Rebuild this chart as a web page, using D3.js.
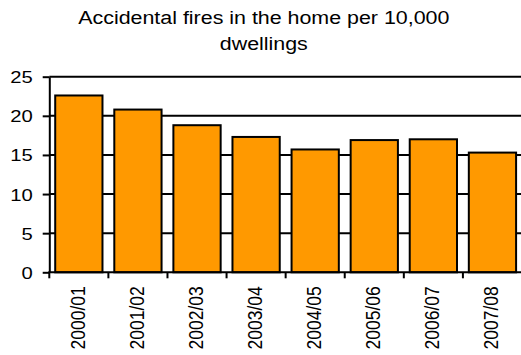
<!DOCTYPE html>
<html>
<head>
<meta charset="utf-8">
<script src="https://cdn.jsdelivr.net/npm/d3@7"></script>
<style>
  html, body { margin: 0; padding: 0; background: #fff; }
  svg { display: block; }
  text { font-family: "Liberation Sans", Arial, sans-serif; fill: #000; }
</style>
</head>
<body>
<svg id="chart" width="521" height="355"></svg>
<script>
// Accidental fires in the home per 10,000 dwellings, by financial year
const years = ["2000/01", "2001/02", "2002/03", "2003/04", "2004/05", "2005/06", "2006/07", "2007/08"];
const firesPer10k = [22.6, 20.8, 18.8, 17.3, 15.7, 16.9, 17.0, 15.3];
const yTicks = [0, 5, 10, 15, 20, 25];
const titleLines = ["Accidental fires in the home per 10,000", "dwellings"];

const svg = d3.select("#chart");
const stretch = 1.19; // glyphs are drawn slightly wide

const plot = { left: 49.3, right: 522, top: 76.7, bottom: 272.3 };

const x = d3.scaleBand().domain(years).range([plot.left, plot.right]).padding(0);
const xBar = d3.scaleBand().domain(years).range([plot.left, plot.right])
  .paddingInner(0.2).paddingOuter(0.1);
const y = d3.scaleLinear().domain([0, 25]).range([plot.bottom, plot.top]);

// title
svg.append("g").selectAll("text").data(titleLines).join("text")
  .attr("transform", (d, i) => `translate(263.8,${24 + i * 25.5}) scale(${stretch},1)`)
  .attr("text-anchor", "middle")
  .style("font-size", "18px")
  .text(d => d);

// horizontal gridlines
svg.append("g").selectAll("line").data(yTicks.filter(v => v > 0)).join("line")
  .attr("x1", plot.left).attr("x2", plot.right)
  .attr("y1", d => y(d)).attr("y2", d => y(d))
  .attr("stroke", "#000").attr("stroke-width", 2);

// bars
svg.append("g").selectAll("rect").data(years).join("rect")
  .attr("x", d => xBar(d))
  .attr("width", xBar.bandwidth())
  .attr("y", (d, i) => y(firesPer10k[i]))
  .attr("height", (d, i) => y(0) - y(firesPer10k[i]))
  .attr("fill", "#FF9900")
  .attr("stroke", "#000")
  .attr("stroke-width", 2);

// y axis
const yAxis = svg.append("g").attr("transform", `translate(${plot.left},0)`)
  .call(d3.axisLeft(y).tickValues(yTicks).tickSize(6.6).tickSizeOuter(0).tickPadding(0));
yAxis.select(".domain").attr("stroke", "#000").attr("stroke-width", 2);
yAxis.selectAll(".tick line").attr("stroke", "#000").attr("stroke-width", 2);
yAxis.selectAll(".tick text")
  .attr("x", null).attr("dy", null)
  .attr("transform", `translate(-16.5,6) scale(${stretch},1)`)
  .attr("text-anchor", "end")
  .style("font-size", "17px")
  .style("font-family", "'Liberation Sans', Arial, sans-serif");

// x axis with ticks on category boundaries
const xAxisG = svg.append("g").attr("transform", `translate(0,${plot.bottom})`);
xAxisG.append("line")
  .attr("x1", plot.left - 1).attr("x2", plot.right)
  .attr("stroke", "#000").attr("stroke-width", 2);
xAxisG.selectAll("line.tick").data(years).join("line")
  .attr("class", "tick")
  .attr("x1", d => x(d)).attr("x2", d => x(d))
  .attr("y1", 0).attr("y2", 6)
  .attr("stroke", "#000").attr("stroke-width", 2);
xAxisG.selectAll("text").data(years).join("text")
  .attr("transform", d => `translate(${x(d) + x.bandwidth() / 2 + 6},14) scale(${stretch},1) rotate(-90)`)
  .attr("text-anchor", "end")
  .style("font-size", "17.5px")
  .text(d => d);
</script>
</body>
</html>
